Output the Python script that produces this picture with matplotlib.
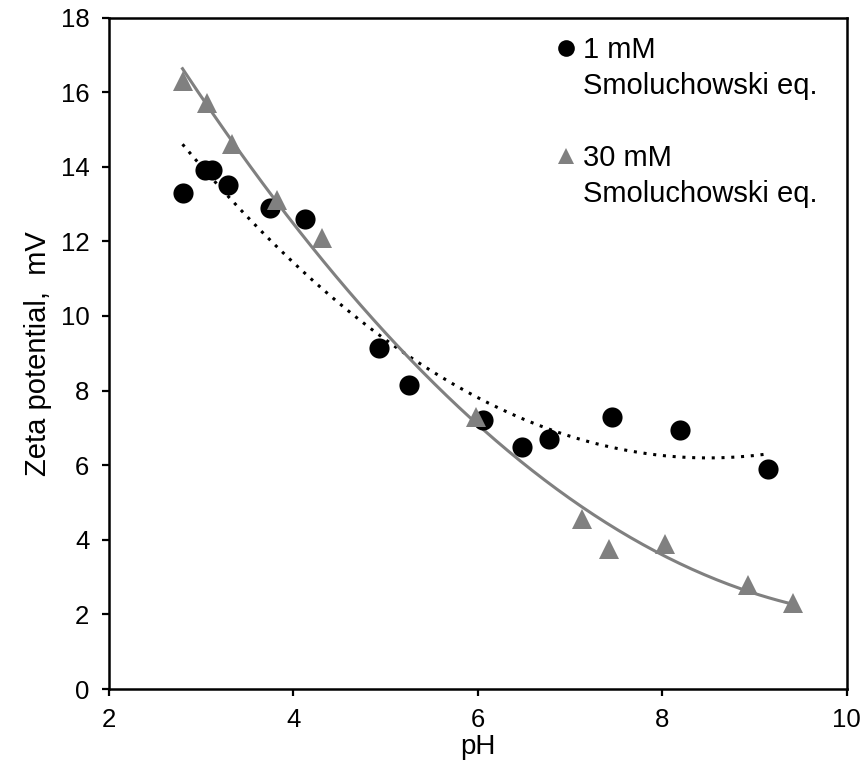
import matplotlib
matplotlib.use("Agg")
import matplotlib.pyplot as plt
import numpy as np

plt.rcParams['font.family'] = ['Liberation Sans', 'DejaVu Sans']

# 1 mM data (circles)
ph_1mm = np.array([2.80, 3.04, 3.12, 3.29, 3.75, 4.13, 4.93, 5.26, 6.06, 6.48, 6.77, 7.46, 8.19, 9.15])
zeta_1mm = np.array([13.3, 13.9, 13.9, 13.5, 12.9, 12.6, 9.15, 8.15, 7.2, 6.5, 6.7, 7.3, 6.95, 5.9])

# 30 mM data (triangles)
ph_30mm = np.array([2.80, 3.07, 3.34, 3.82, 4.31, 5.98, 7.13, 7.42, 8.03, 8.93, 9.42])
zeta_30mm = np.array([16.3, 15.7, 14.6, 13.1, 12.1, 7.3, 4.55, 3.75, 3.9, 2.8, 2.3])

labels = ['1 mM', '30 mM']
sub_label = 'Smoluchowski eq.'

x_ticks = [2, 4, 6, 8, 10]
y_ticks = [0, 2, 4, 6, 8, 10, 12, 14, 16, 18]


def main():
    fig = plt.figure(figsize=(8.67, 7.76), dpi=100)
    ax = fig.add_axes([0.1254, 0.1121, 0.8512, 0.8653])

    grey = '#808080'

    # polynomial trendlines (order 2)
    c1 = np.polyfit(ph_1mm, zeta_1mm, 2)
    xs1 = np.linspace(ph_1mm.min(), ph_1mm.max(), 200)
    ax.plot(xs1, np.polyval(c1, xs1), color='black', linestyle=(0, (1, 2.2)), lw=2.2, zorder=2)

    c30 = np.polyfit(ph_30mm, zeta_30mm, 2)
    xs30 = np.linspace(ph_30mm.min(), ph_30mm.max(), 200)
    ax.plot(xs30, np.polyval(c30, xs30), color=grey, lw=2.2, zorder=2)

    ax.plot(ph_1mm, zeta_1mm, 'o', color='black', ms=14.5, mew=0, zorder=3)
    ax.plot(ph_30mm, zeta_30mm, '^', color=grey, ms=14, mew=0, zorder=4)

    ax.set_xlim(2, 10)
    ax.set_ylim(0, 18)
    ax.set_xticks(x_ticks)
    ax.set_yticks(y_ticks)
    ax.tick_params(direction='out', length=5, width=1.6, labelsize=18.5, pad=9)
    for s in ax.spines.values():
        s.set_linewidth(1.8)

    ax.set_xlabel('pH', fontsize=20, labelpad=1)
    ax.set_ylabel('Zeta potential,  mV', fontsize=21, labelpad=6)

    # legend with marker aligned on first line of each label
    h_circle = plt.Line2D([], [], marker='o', color='black', ls='none', ms=12, mew=0)
    h_tri = plt.Line2D([], [], marker='^', color=grey, ls='none', ms=12, mew=0)
    h_blank = plt.Line2D([], [], ls='none', marker=None)
    handles = [h_circle, h_blank, h_blank, h_tri, h_blank]
    texts = [labels[0], sub_label, '', labels[1], sub_label]
    ax.legend(handles, texts, loc='upper left', bbox_to_anchor=(0.581, 1.0),
              frameon=False, fontsize=21, handlelength=0.65, handletextpad=0.25,
              labelspacing=0.27, borderaxespad=0.25)

    fig.savefig('out.png', dpi=100)


if __name__ == '__main__':
    main()
